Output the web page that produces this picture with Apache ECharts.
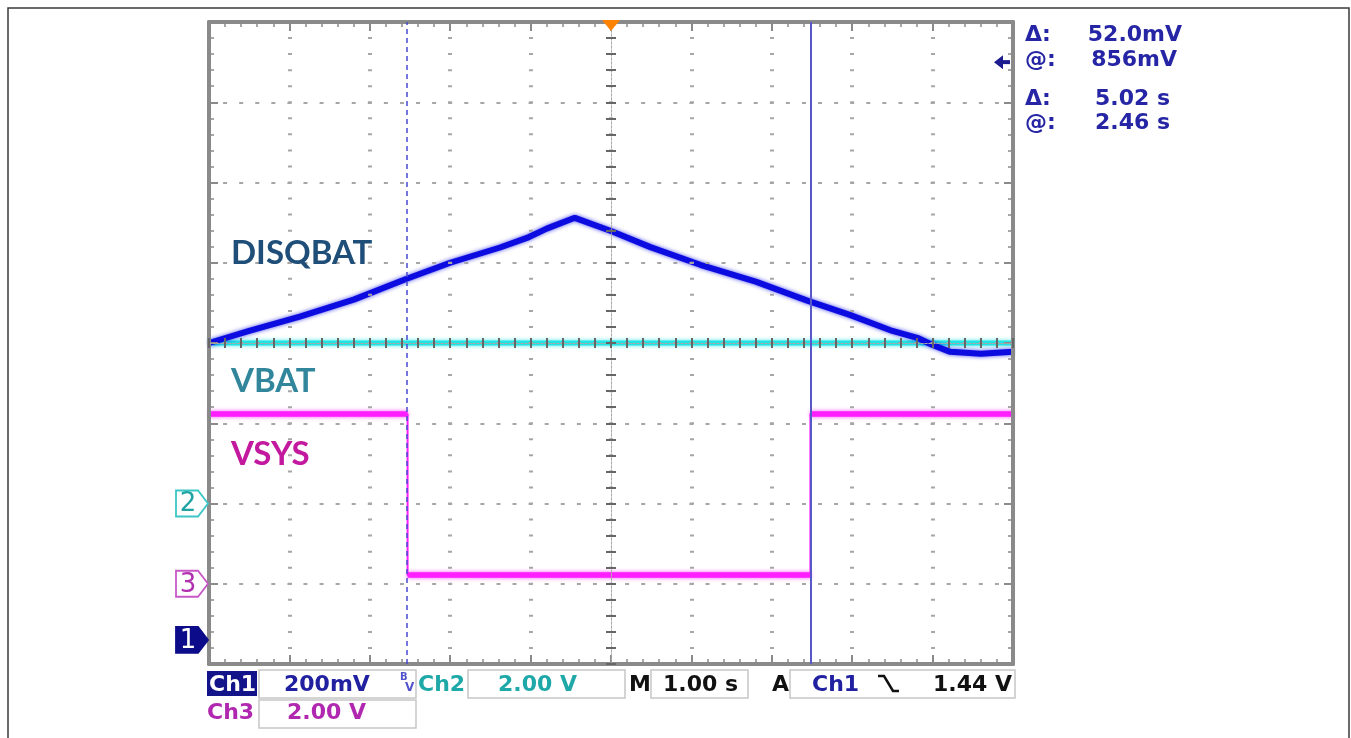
<!DOCTYPE html>
<html><head><meta charset="utf-8">
<script src="https://cdn.jsdelivr.net/npm/echarts@6/dist/echarts.min.js"></script>
<style>html,body{margin:0;padding:0;background:#fff;}#c{width:1351px;height:738px;}</style>
</head><body><div id="c"></div>
<script>
// ---- data (time in seconds, 1.00 s/div, 10 divisions) ----
const timeRange = [0, 10];
const disqbatTime  = [0, 0.5, 1.13, 1.8, 2.46, 3.0, 3.62, 3.98, 4.2, 4.55, 5.0, 5.49, 6.11, 6.8, 7.45, 7.97, 8.5, 8.81, 9.0, 9.22, 9.6, 10];
const disqbatVolts = [0.740, 0.770, 0.806, 0.848, 0.900, 0.940, 0.978, 1.004, 1.025, 1.052, 1.019, 0.979, 0.935, 0.893, 0.845, 0.810, 0.770, 0.753, 0.735, 0.718, 0.713, 0.718];
const vbatTime  = [0, 10];
const vbatVolts = [4.0, 4.0];
const vsysTime  = [0, 2.47, 2.47, 7.48, 7.48, 10];
const vsysVolts = [4.23, 4.23, 0.22, 0.22, 4.23, 4.23];
const cursorTimes = [2.46, 7.48];
const triggerTime = 5.0;
const triggerLevel = 1.44;            // V on Ch1
const channelNames = ['Ch1', 'Ch2', 'Ch3'];
const channelScale = [0.2, 2.0, 2.0]; // V/div
const channelGroundDiv = [-3.7, -2, -3]; // ground marker, divisions from centre
const readoutDelta = ['52.0mV', '5.02 s'];
const readoutAt = ['856mV', '2.46 s'];
const scaleLabels = ['200mV', '2.00 V', '2.00 V'];
const timebaseLabel = '1.00 s';
const triggerLabel = '1.44 V';

// ---- layout ----
const G = {left: 209, top: 22, width: 804, height: 642};
const borderGray = '#8a8a8a';
const dotGray = '#a6a6a6';
const px0 = G.width / 50, py0 = G.height / 40;

function zip(a, b) { return a.map((v, i) => [v, b[i]]); }
// level segments only (break the path at each vertical edge)
function levels(t, v) {
  const out = [];
  for (let i = 0; i < t.length; i++) {
    if (i > 0 && t[i] === t[i - 1]) out.push(null);
    out.push([t[i], v[i]]);
  }
  return out;
}
function borderAxis(extra) {
  return Object.assign({
    type: 'value', z: 4,
    axisLine: {show: true, onZero: false, lineStyle: {color: borderGray, width: 4}},
    axisTick: {show: true, inside: true, length: 9, lineStyle: {color: borderGray, width: 2}},
    minorTick: {show: true, splitNumber: 5, length: 5, lineStyle: {color: borderGray, width: 1.5}},
    axisLabel: {show: false}, splitLine: {show: false}
  }, extra);
}
function centerAxis(inside, zeroIdx, extra) {
  return Object.assign({
    type: 'value', z: 5,
    axisLine: {show: true, onZero: true, onZeroAxisIndex: zeroIdx, lineStyle: {color: '#a8a8a8', width: 1, type: [2, 2]}},
    axisTick: {show: true, inside: inside, length: 5, lineStyle: {color: '#666666', width: 2}},
    minorTick: {show: true, splitNumber: 5, length: 5, lineStyle: {color: '#666666', width: 2}},
    axisLabel: {show: false}, splitLine: {show: false}
  }, extra);
}
function chAxis(i) {
  const s = channelScale[i], o = channelGroundDiv[i];
  return {type: 'value', show: false, min: +((-4 - o) * s).toFixed(4), max: +((4 - o) * s).toFixed(4),
          axisLine: {onZero: false}};
}

const chart = echarts.init(document.getElementById('c'));
chart.setOption({
  animation: false,
  backgroundColor: '#ffffff',
  grid: {left: G.left, top: G.top, width: G.width, height: G.height, containLabel: false},
  xAxis: [
    borderAxis({position: 'bottom', min: timeRange[0], max: timeRange[1], interval: 1,
      splitLine: {show: true, lineStyle: {color: dotGray, width: 4, type: [2, py0 - 2], dashOffset: 1}}}),
    borderAxis({position: 'top', min: timeRange[0], max: timeRange[1], interval: 1}),
    centerAxis(true, 0, {position: 'bottom', min: timeRange[0], max: timeRange[1], interval: 1}),
    centerAxis(false, 0, {position: 'bottom', min: timeRange[0], max: timeRange[1], interval: 1}),
    {type: 'value', show: false, min: -5, max: 5, axisLine: {onZero: false}}
  ],
  yAxis: [
    borderAxis({position: 'left', min: -4, max: 4, interval: 1,
      splitLine: {show: true, lineStyle: {color: dotGray, width: 2, type: [4, px0 - 4], dashOffset: 2}}}),
    borderAxis({position: 'right', min: -4, max: 4, interval: 1}),
    centerAxis(true, 4, {position: 'left', min: -4, max: 4, interval: 1}),
    centerAxis(false, 4, {position: 'left', min: -4, max: 4, interval: 1}),
    chAxis(0), chAxis(1), chAxis(2)
  ],
  series: [
    {name: 'VBAT', type: 'line', xAxisIndex: 0, yAxisIndex: 5, data: zip(vbatTime, vbatVolts),
     showSymbol: false, z: 2, lineStyle: {color: '#22e3e3', width: 5, shadowBlur: 4, shadowColor: 'rgba(0,225,225,0.7)'}},
    {name: 'VSYS edges', type: 'line', xAxisIndex: 0, yAxisIndex: 6, data: zip(vsysTime, vsysVolts),
     showSymbol: false, z: 2, lineStyle: {color: '#ff1eff', width: 2}},
    {name: 'VSYS', type: 'line', xAxisIndex: 0, yAxisIndex: 6, data: levels(vsysTime, vsysVolts), connectNulls: false,
     showSymbol: false, z: 2, lineStyle: {color: '#ff1eff', width: 5.5, shadowBlur: 4, shadowColor: 'rgba(255,0,255,0.7)'}},
    {name: 'DISQBAT', type: 'line', xAxisIndex: 0, yAxisIndex: 4, data: zip(disqbatTime, disqbatVolts),
     showSymbol: false, z: 3, lineStyle: {color: '#0c0ce0', width: 6, shadowBlur: 4, shadowColor: 'rgba(0,0,235,0.7)'},
     markLine: {silent: true, symbol: 'none', label: {show: false}, z: 6,
       data: [
         {xAxis: cursorTimes[0], lineStyle: {color: '#4848d0', width: 1.5, type: [5, 4]}},
         {xAxis: cursorTimes[1], lineStyle: {color: '#5858c8', width: 2, type: 'solid'}}
       ]}}
  ]
});

// ---- overlay graphics positioned through the chart's own scales ----
const F = 'bold 22px "DejaVu Sans"';
function txt(x, y, text, color, font, align) {
  return {type: 'text', x: x, y: y, z: 100, style: {text: text, fill: color, font: font || F, align: align || 'left', verticalAlign: 'middle'}};
}
function box(x, y, w, h) {
  return {type: 'rect', z: 99, shape: {x: x, y: y, width: w, height: h}, style: {fill: 'none', stroke: '#c6c6c6', lineWidth: 1.5}};
}
const els = [];
// outer frame
els.push({type: 'rect', z: 1, shape: {x: 8, y: 8, width: 1341, height: 745}, style: {fill: 'none', stroke: '#3a3a3a', lineWidth: 1.5}});

// channel ground markers
const markerStyle = [
  {fill: '#0c0c8a', stroke: '#0c0c8a', text: '#ffffff'},
  {fill: '#ffffff', stroke: '#3cc6c6', text: '#1fa3a3'},
  {fill: '#ffffff', stroke: '#c858c8', text: '#b030b0'}
];
const tipX = G.left - 1;
for (let i = 0; i < 3; i++) {
  const y = chart.convertToPixel({yAxisIndex: 4 + i}, 0);
  const m = markerStyle[i];
  els.push({type: 'polygon', z: 100, shape: {points: [[tipX - 32, y - 13], [tipX - 10, y - 13], [tipX, y], [tipX - 10, y + 13], [tipX - 32, y + 13]]},
            style: {fill: m.fill, stroke: m.stroke, lineWidth: 1.8}});
  els.push(txt(tipX - 20, y + 1, String(i + 1), m.text, 'normal 26px "DejaVu Sans"', 'center'));
}
// trigger position (top) and trigger level (right)
const tx = chart.convertToPixel({xAxisIndex: 0}, triggerTime);
els.push({type: 'polygon', z: 101, shape: {points: [[tx - 9, 20], [tx + 9, 20], [tx, 31]]}, style: {fill: '#ff8200'}});
const ty = chart.convertToPixel({yAxisIndex: 4}, triggerLevel);
els.push({type: 'polygon', z: 101, shape: {points: [[994, ty], [1003, ty - 7], [1003, ty + 7]]}, style: {fill: '#1c1c90'}});
els.push({type: 'rect', z: 101, shape: {x: 1001, y: ty - 2, width: 9, height: 4}, style: {fill: '#1c1c90'}});

// trace labels
const LF = 'bold 33px Lato';
els.push(txt(231, 253, 'DISQBAT', '#1f4e79', LF));
els.push(txt(231, 381, 'VBAT', '#31869c', LF));
els.push(txt(231, 454, 'VSYS', '#c2199e', LF));

// cursor readouts
const RC = '#2525a5';
els.push(txt(1025, 35, 'Δ:', RC)); els.push(txt(1182, 35, readoutDelta[0], RC, F, 'right'));
els.push(txt(1025, 60, '@:', RC)); els.push(txt(1177, 60, readoutAt[0], RC, F, 'right'));
els.push(txt(1025, 99, 'Δ:', RC)); els.push(txt(1170, 99, readoutDelta[1], RC, F, 'right'));
els.push(txt(1025, 123, '@:', RC)); els.push(txt(1170, 123, readoutAt[1], RC, F, 'right'));

// bottom status bar
els.push({type: 'rect', z: 99, shape: {x: 207, y: 671, width: 50, height: 25}, style: {fill: '#14148a'}});
els.push(txt(209, 685, channelNames[0], '#ffffff'));
els.push(box(259, 670, 157, 28));
els.push(txt(284, 685, scaleLabels[0], '#2020a0'));
els.push(txt(400, 677, 'B', '#5252cc', 'bold 10px "DejaVu Sans"'));
els.push(txt(405, 688, 'V', '#5252cc', 'bold 12px "DejaVu Sans"'));
els.push(txt(418, 685, channelNames[1], '#1fa8a8'));
els.push(box(468, 670, 157, 28));
els.push(txt(498, 685, scaleLabels[1], '#1fa8a8'));
els.push(txt(629, 685, 'M', '#111111'));
els.push(box(651, 670, 97, 28));
els.push(txt(663, 685, timebaseLabel, '#111111'));
els.push(txt(772, 685, 'A', '#111111'));
els.push(box(790, 670, 225, 28));
els.push(txt(812, 685, channelNames[0], '#2020a0'));
els.push({type: 'polyline', z: 100, shape: {points: [[878, 676], [884, 676], [893, 691], [899, 691]]}, style: {stroke: '#111111', lineWidth: 2.5, fill: null}});
els.push(txt(933, 685, triggerLabel, '#111111'));
els.push(txt(207, 713, channelNames[2], '#b028b0'));
els.push(box(259, 700, 157, 28));
els.push(txt(287, 713, scaleLabels[2], '#b028b0'));

chart.setOption({graphic: els});
</script></body></html>
